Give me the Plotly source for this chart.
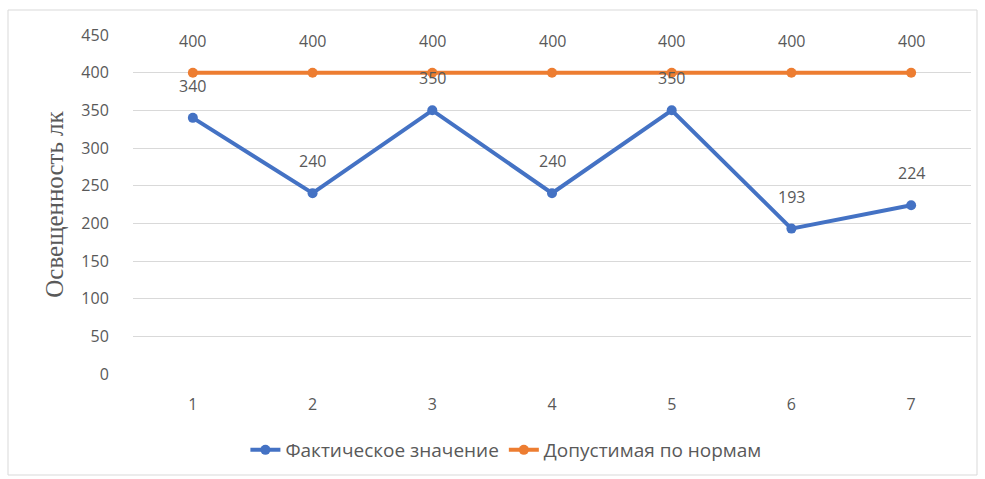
import plotly.graph_objects as go

categories = [1, 2, 3, 4, 5, 6, 7]
actual = [340, 240, 350, 240, 350, 193, 224]
norm = [400, 400, 400, 400, 400, 400, 400]
y_ticks = [0, 50, 100, 150, 200, 250, 300, 350, 400, 450]

blue = "#4472C4"
orange = "#ED7D31"
txt = "#595959"
font_family = "Open Sans, Liberation Sans, sans-serif"

fig = go.Figure()
fig.add_trace(go.Scatter(
    x=categories, y=actual, mode="lines+markers", name="Фактическое значение",
    line=dict(color=blue, width=4), marker=dict(size=10, color=blue)))
fig.add_trace(go.Scatter(
    x=categories, y=norm, mode="lines+markers", name="Допустимая по нормам",
    line=dict(color=orange, width=4), marker=dict(size=10, color=orange)))

annotations = []
for series in (actual, norm):
    for c, v in zip(categories, series):
        annotations.append(dict(x=c, y=v, xref="x", yref="y", text=str(v),
                                showarrow=False, yshift=32,
                                font=dict(color=txt, size=16, family=font_family)))

fig.update_layout(
    width=985, height=479,
    margin=dict(l=133, r=14, t=35, b=105, autoexpand=False),
    paper_bgcolor="white", plot_bgcolor="white",
    font=dict(family=font_family, color=txt, size=16),
    showlegend=True,
    legend=dict(orientation="h", x=0.445, xanchor="center",
                yref="container", y=1 - 450 / 479, yanchor="middle",
                font=dict(size=19, color=txt)),
    xaxis=dict(range=[0.5, 7.5], tickvals=categories, ticktext=[str(c) for c in categories],
               showgrid=False, zeroline=False, showline=False,
               ticks="outside", ticklen=16, tickcolor="white",
               tickfont=dict(size=16, color=txt)),
    yaxis=dict(range=[0, 450], tickvals=y_ticks, showgrid=True, gridcolor="#D9D9D9",
               gridwidth=1, zeroline=False, showline=False, ticks="outside",
               ticklen=20, tickcolor="white",
               tickfont=dict(size=16, color=txt),
               title=dict(text="Освещенность лк", standoff=10,
                          font=dict(family="Liberation Serif, DejaVu Serif, serif", size=25, color=txt))),
    annotations=annotations,
    shapes=[dict(type="rect", xref="paper", yref="paper",
                 x0=(8 - 133) / 838, x1=(977 - 133) / 838,
                 y0=(374 - 475) / 339, y1=(374 - 10) / 339,
                 line=dict(color="#D9D9D9", width=1), fillcolor="rgba(0,0,0,0)", layer="below")],
)

fig.write_html("out.html")
